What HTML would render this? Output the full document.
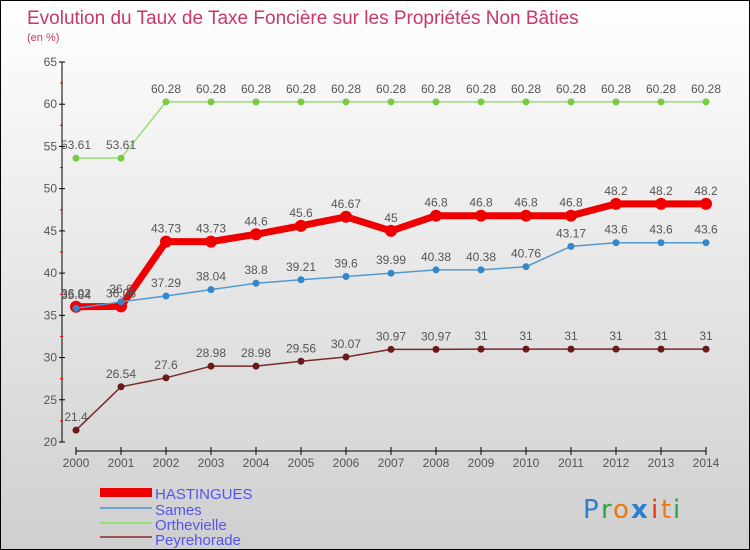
<!DOCTYPE html>
<html><head><meta charset="utf-8">
<style>
html,body{margin:0;padding:0;}
body{width:750px;height:550px;overflow:hidden;font-family:"Liberation Sans",sans-serif;}
#wrap{position:absolute;left:0;top:0;width:748px;height:548px;border:1px solid #000;background:linear-gradient(#ffffff,#cfcfcf);}
</style></head>
<body>
<div id="wrap">
<svg id="chart" width="748" height="548" style="position:absolute;left:0;top:0">
<text x="26" y="23" font-size="19" fill="#c8376a">Evolution du Taux de Taxe Foncière sur les Propriétés Non Bâties</text>
<text x="26" y="40" font-size="11" fill="#c8376a">(en %)</text>
<g id="axes"></g>
<g id="series"></g>
<g id="legend" font-size="15" fill="#5555ee">
<rect x="99" y="487" width="52" height="9" fill="#ee0000"/>
<text x="154" y="498">HASTINGUES</text>
<rect x="99" y="506" width="52" height="2" fill="#6fa3cf"/>
<text x="154" y="514">Sames</text>
<rect x="99" y="521" width="52" height="2" fill="#99dd77"/>
<text x="154" y="529">Orthevielle</text>
<rect x="99" y="535" width="52" height="2" fill="#995555"/>
<text x="154" y="544">Peyrehorade</text>
</g>
<g font-size="26" font-family="'DejaVu Sans',sans-serif">
<text x="582" y="517" fill="#2a7fd0">P</text><text x="600" y="517" fill="#22aa44">r</text><text x="612" y="517" fill="#ee7711">o</text><text x="630" y="517" fill="#2a7fd0" font-weight="bold">x</text><text x="650" y="517" fill="#ee3311">i</text><text x="660" y="517" fill="#ee7711">t</text><text x="672" y="517" fill="#22aa44">i</text>
</g>
</svg>
</div>
<script>
const years = [2000,2001,2002,2003,2004,2005,2006,2007,2008,2009,2010,2011,2012,2013,2014];
const yTicks = [20,25,30,35,40,45,50,55,60,65];
const hastingues = [36.02,36.06,43.73,43.73,44.6,45.6,46.67,45,46.8,46.8,46.8,46.8,48.2,48.2,48.2];
const sames = [35.84,36.6,37.29,38.04,38.8,39.21,39.6,39.99,40.38,40.38,40.76,43.17,43.6,43.6,43.6];
const orthevielle = [53.61,53.61,60.28,60.28,60.28,60.28,60.28,60.28,60.28,60.28,60.28,60.28,60.28,60.28,60.28];
const peyrehorade = [21.4,26.54,27.6,28.98,28.98,29.56,30.07,30.97,30.97,31,31,31,31,31,31];

const NS="http://www.w3.org/2000/svg";
const x0=75,x1=705,yTop=61,yBot=441,vMin=20,vMax=65;
function xs(i){return x0+(x1-x0)*i/(years.length-1);}
function ys(v){return yBot-(v-vMin)*(yBot-yTop)/(vMax-vMin);}
function mk(tag,attrs,parent){const e=document.createElementNS(NS,tag);for(const k in attrs)e.setAttribute(k,attrs[k]);parent.appendChild(e);return e;}
const axes=document.getElementById('axes'),ser=document.getElementById('series');

let a=mk('line',{x1:61,y1:yTop,x2:61,y2:yBot,stroke:'#000','stroke-width':1},axes);


yTicks.forEach(v=>{
  const t=mk('line',{x1:58,x2:64,y1:ys(v),y2:ys(v),stroke:'#000'},axes);
  
  
  const l=mk('text',{x:56,y:ys(v)+4,'text-anchor':'end','font-size':12,fill:'#555'},axes);
  l.textContent=v;
  
  
  if(v<65){const m=mk('line',{x1:59,x2:62,y1:ys(v+2.5),y2:ys(v+2.5),stroke:'#e00'},axes);
  
  }
});
a=mk('line',{x1:x0,y1:450,x2:x1,y2:450,stroke:'#000'},axes);


years.forEach((y,i)=>{
  const t=mk('line',{x1:xs(i),x2:xs(i),y1:446,y2:454,stroke:'#000'},axes);
  
  
  const l=mk('text',{x:xs(i),y:466,'text-anchor':'middle','font-size':12,fill:'#555'},axes);
  l.textContent=y;
  
  
});

function draw(vals,name,color,dot,w,r,labelColor){
  const g=mk('g',{},ser);
  
  
  const p=mk('polyline',{points:vals.map((v,i)=>xs(i)+','+ys(v)).join(' '),fill:'none',stroke:color,'stroke-width':w,'stroke-linejoin':'round'},g);
  
  
  vals.forEach((v,i)=>{
    const c=mk('circle',{cx:xs(i),cy:ys(v),r:r,fill:dot,stroke:'none'},g);
    
    
    const t=mk('text',{x:xs(i),y:ys(v)-9,'text-anchor':'middle','font-size':12,fill:labelColor},g);
    t.textContent=v;
    
    
  });
}
draw(peyrehorade,'peyrehorade','#7a2a2a','#6a1a1a',1.5,3.5,'#555');
draw(orthevielle,'orthevielle','#99dd77','#77cc44',1.5,3.5,'#555');
draw(hastingues,'hastingues','#ee0000','#ee0000',7,6,'#555');
draw(sames,'sames','#5599cc','#3388cc',1.5,3.5,'#555');
</script>
</body></html>
